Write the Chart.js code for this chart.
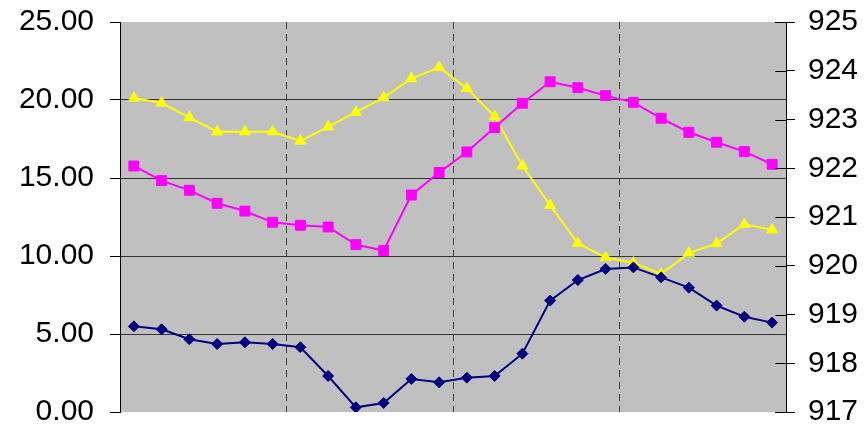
<!DOCTYPE html>
<html>
<head>
<meta charset="utf-8">
<script src="https://cdn.jsdelivr.net/npm/chart.js@4/dist/chart.umd.min.js"></script>
<style>
html,body{margin:0;padding:0;background:#fff;}
#wrap{width:867px;height:431px;position:relative;}
</style>
</head>
<body>
<div id="wrap"><canvas id="c" width="867" height="431"></canvas></div>
<script>
const categories = ['1','2','3','4','5','6','7','8','9','10','11','12','13','14','15','16','17','18','19','20','21','22','23','24'];
const navySeries = [5.49,5.30,4.66,4.36,4.47,4.36,4.15,2.31,0.30,0.58,2.12,1.90,2.20,2.31,3.74,7.14,8.46,9.17,9.27,8.63,7.97,6.82,6.11,5.73];
const magentaSeries = [15.77,14.83,14.21,13.38,12.88,12.16,11.97,11.86,10.73,10.35,13.91,15.35,16.67,18.23,19.79,21.17,20.79,20.28,19.85,18.83,17.93,17.29,16.69,15.88];
const yellowSeries = [923.44,923.34,923.04,922.75,922.75,922.75,922.56,922.85,923.15,923.45,923.84,924.07,923.64,923.06,922.05,921.24,920.46,920.17,920.06,919.83,920.26,920.46,920.85,920.74];
const leftTicks = [0,5,10,15,20,25];
const rightTicks = [917,918,919,920,921,922,923,924,925];

const FONT = {family:'"Liberation Sans", Arial, sans-serif', size:30};

const bgPlugin = {
  id:'bg',
  beforeDraw(chart){
    const {ctx, chartArea:a} = chart;
    ctx.save();
    ctx.fillStyle = '#C0C0C0';
    ctx.fillRect(a.left, a.top, a.right-a.left, a.bottom-a.top);
    ctx.restore();
  },
  afterDatasetsDraw(chart){
    const {ctx, chartArea:a} = chart;
    const s = chart.scales.y1;
    ctx.save();
    ctx.strokeStyle = '#000';
    ctx.lineWidth = 1;
    rightTicks.forEach(v=>{
      const y = Math.round(s.getPixelForValue(v))+0.5;
      ctx.beginPath();
      ctx.moveTo(a.right-11, y);
      ctx.lineTo(a.right, y);
      ctx.stroke();
    });
    ctx.restore();
  }
};

function noPad(s){ s.paddingTop = 0; s.paddingBottom = 0; }

new Chart(document.getElementById('c'), {
  type:'line',
  data:{
    labels:categories,
    datasets:[
      {data:navySeries, yAxisID:'y', borderColor:'#000080', backgroundColor:'#000080', borderWidth:2,
       pointStyle:'rectRot', pointRadius:5.5, pointBorderWidth:1, tension:0},
      {data:magentaSeries, yAxisID:'y', borderColor:'#FF00FF', backgroundColor:'#FF00FF', borderWidth:2,
       pointStyle:'rect', pointRadius:7, pointBorderWidth:1, tension:0},
      {data:yellowSeries, yAxisID:'y1', borderColor:'#FFFF00', backgroundColor:'#FFFF00', borderWidth:2,
       pointStyle:'triangle', pointRadius:6.3, pointBorderWidth:1, tension:0}
    ]
  },
  options:{
    responsive:false,
    animation:false,
    events:[],
    layout:{padding:{top:22,bottom:19,left:0,right:0}},
    plugins:{legend:{display:false},tooltip:{enabled:false},title:{display:false}},
    scales:{
      x:{
        offset:true,
        afterFit(s){ s.height = 0; s.paddingLeft = 0; s.paddingRight = 0; },
        ticks:{display:false},
        grid:{
          offset:true,
          drawTicks:false,
          lineWidth:1,
          color:(c)=> (c.index && c.index % 6 === 0) ? '#404040' : 'rgba(0,0,0,0)'
        },
        border:{display:false, dash:[7,5]}
      },
      y:{
        position:'left',
        min:0,max:25,
        afterFit(s){ s.width = 120; noPad(s); },
        afterBuildTicks(s){ s.ticks = leftTicks.map(v=>({value:v})); },
        ticks:{font:FONT, color:'#000', padding:16, callback:(v)=>Number(v).toFixed(2)},
        grid:{
          tickLength:10, tickColor:'#000', lineWidth:1,
          color:(c)=> (c.tick && (c.tick.value===0 || c.tick.value===25)) ? 'rgba(0,0,0,0)' : '#333333'
        },
        border:{display:true,color:'#000',width:1}
      },
      y1:{
        position:'right',
        min:917,max:925,
        afterFit(s){ s.width = 81; noPad(s); },
        afterBuildTicks(s){ s.ticks = rightTicks.map(v=>({value:v})); },
        ticks:{font:FONT, color:'#000', padding:13, callback:(v)=>String(v)},
        grid:{drawOnChartArea:false, tickLength:9, tickColor:'#000'},
        border:{display:true,color:'#000',width:1}
      }
    }
  },
  plugins:[bgPlugin]
});
</script>
</body>
</html>
